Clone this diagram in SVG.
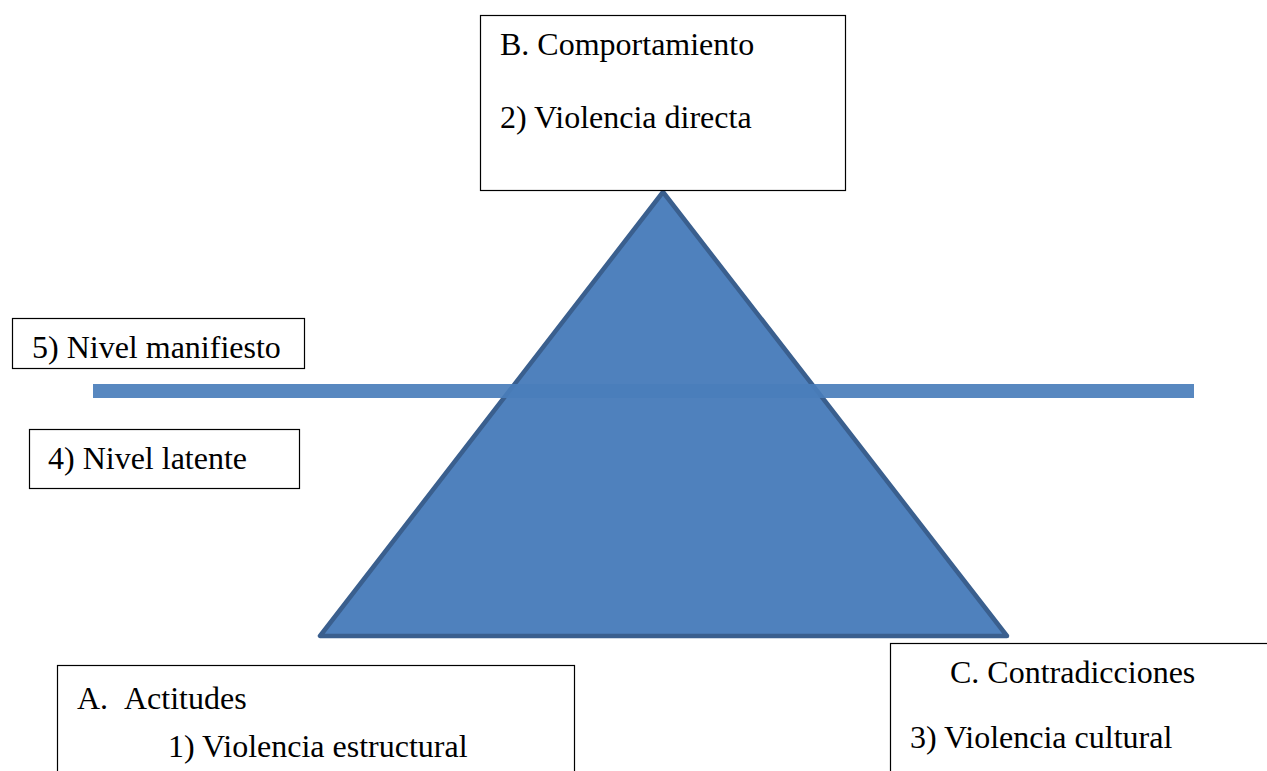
<svg xmlns="http://www.w3.org/2000/svg" width="1267" height="771" viewBox="0 0 1267 771">
<style>
.box{fill:#fff;stroke:#000;stroke-width:1.2}
.t{font-family:"Liberation Serif","Times New Roman",serif;font-size:32px;fill:#000}
</style>
<rect width="1267" height="771" fill="#fff"/>
<g id="triangle">
<polygon points="663,192 320,636 1007,636" fill="#4F81BD" stroke="#3A5F8E" stroke-width="4.5" stroke-linejoin="round"/>
</g>
<g id="connectors">
<rect x="93" y="384" width="1101" height="14" fill="#4A7EBB" opacity="0.92"/>
</g>
<g id="nodeB">
<rect class="box" x="480.5" y="15.5" width="365" height="175"/>
<text class="t" x="500" y="55">B. Comportamiento</text>
<text class="t" x="500" y="128">2) Violencia directa</text>
</g>
<g id="node5">
<rect class="box" x="12.5" y="318.5" width="292" height="50"/>
<text class="t" x="32" y="358">5) Nivel manifiesto</text>
</g>
<g id="node4">
<rect class="box" x="29.5" y="429.5" width="270" height="59"/>
<text class="t" x="48" y="469">4) Nivel latente</text>
</g>
<g id="nodeA">
<rect class="box" x="57.5" y="665.5" width="517" height="120"/>
<text class="t" x="77" y="709">A.</text>
<text class="t" x="124" y="709">Actitudes</text>
<text class="t" x="168" y="757">1) Violencia estructural</text>
</g>
<g id="nodeC">
<rect class="box" x="890.5" y="643.5" width="390" height="140"/>
<text class="t" x="950" y="683">C. Contradicciones</text>
<text class="t" x="910" y="748">3) Violencia cultural</text>
</g>
</svg>
